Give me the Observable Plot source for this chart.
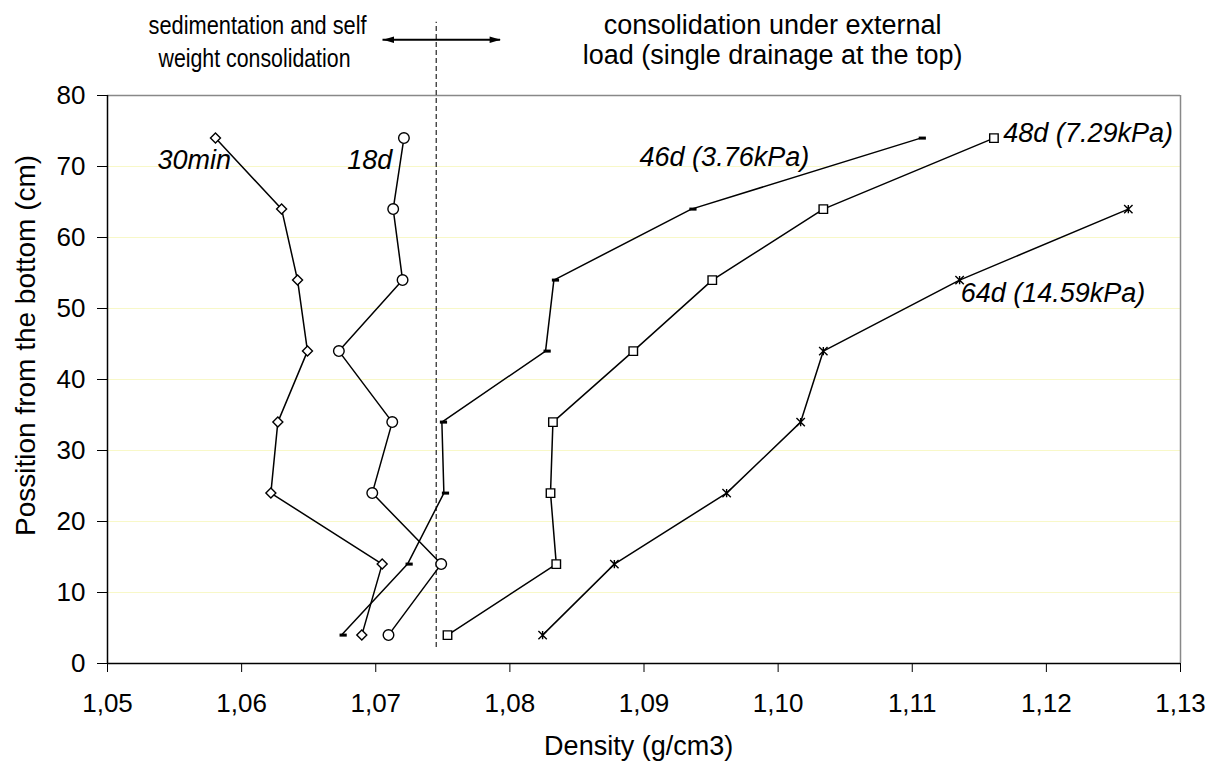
<!DOCTYPE html>
<html><head><meta charset="utf-8">
<script src="https://cdn.jsdelivr.net/npm/d3@7"></script>
<script src="https://cdn.jsdelivr.net/npm/@observablehq/plot@0.6"></script>
<style>body{margin:0;background:#fff}</style>
</head><body><div id="chart"></div>
<script>
// ---- data ----
const positions = [4, 14, 24, 34, 44, 54, 64, 74];
const density30min = [1.06896, 1.07048, 1.06218, 1.06270, 1.06491, 1.06417, 1.06298, 1.05805];
const density18d   = [1.07095, 1.07488, 1.06974, 1.07123, 1.06725, 1.07200, 1.07130, 1.07210];
const density46d   = [1.06745, 1.07237, 1.07508, 1.07493, 1.08266, 1.08328, 1.09353, 1.11063];
const density48d   = [1.07535, 1.08346, 1.08303, 1.08321, 1.08920, 1.09509, 1.10337, 1.11609];
const positions64d = [4, 14, 24, 34, 44, 54, 64];
const density64d   = [1.08244, 1.08779, 1.09616, 1.10168, 1.10337, 1.11353, 1.12611];

const xTicks = [1.05, 1.06, 1.07, 1.08, 1.09, 1.10, 1.11, 1.12, 1.13];
const yTicks = [0, 10, 20, 30, 40, 50, 60, 70, 80];
const gridValues = [10, 20, 30, 40, 50, 60, 70];

// series labels (data units)
const seriesLabels = ["30min", "18d", "46d (3.76kPa)", "48d (7.29kPa)", "64d (14.59kPa)"];
const seriesLabelX = [1.05373, 1.06787, 1.08967, 1.11679, 1.11361];
const seriesLabelY = [70.93, 70.93, 71.35, 74.73, 52.1];

// header annotations
const leftHeader = ["sedimentation and self", "weight consolidation"];
const leftHeaderX = [1.06119, 1.06096];
const leftHeaderY = [89.9, 85.25];
const leftHeaderLength = [218, 192];
const rightHeader = ["consolidation under external", "load (single drainage at the top)"];
const rightHeaderX = 1.09959;
const rightHeaderY = [89.9, 85.68];

const boundaryDensity = 1.07451;   // dashed vertical line
const boundaryRange = [2.25, 90.3];
const arrowSpan = [1.07054, 1.07931];
const arrowHeads = [1.07095, 1.0789];
const arrowLevel = 87.85;

// ---- tables ----
function series(name, xs, ys) { return xs.map((x, i) => ({series: name, density: x, position: ys[i]})); }
const s30 = series("30min", density30min, positions);
const s18 = series("18d", density18d, positions);
const s46 = series("46d", density46d, positions);
const s48 = series("48d", density48d, positions);
const s64 = series("64d", density64d, positions64d);
const all = [...s30, ...s18, ...s46, ...s48, ...s64];

// ---- custom symbols ----
const dashSymbol = {draw(ctx, size) { const r = Math.sqrt(size / Math.PI);
  ctx.moveTo(-r * 0.5, -r * 0.38); ctx.lineTo(r * 1.3, -r * 0.38); ctx.lineTo(r * 1.3, r * 0.38); ctx.lineTo(-r * 0.5, r * 0.38); ctx.closePath(); }};
const starSymbol = {draw(ctx, size) { const r = Math.sqrt(size / Math.PI);
  ctx.moveTo(-r, -r); ctx.lineTo(r, r); ctx.moveTo(-r, r); ctx.lineTo(r, -r); ctx.moveTo(0, -r); ctx.lineTo(0, r); }};
const headLeft = {draw(ctx, size) { const r = Math.sqrt(size / Math.PI);
  ctx.moveTo(-r, 0); ctx.lineTo(r, -r * 0.6); ctx.lineTo(r, r * 0.6); ctx.closePath(); }};
const headRight = {draw(ctx, size) { const r = Math.sqrt(size / Math.PI);
  ctx.moveTo(r, 0); ctx.lineTo(-r, -r * 0.6); ctx.lineTo(-r, r * 0.6); ctx.closePath(); }};

const comma = d => d.toFixed(2).replace(".", ",");

const chart = Plot.plot({
  width: 1219,
  height: 761,
  marginLeft: 107,
  marginRight: 39,
  marginTop: 95,
  marginBottom: 98,
  style: {fontFamily: "'Liberation Sans', Arial, sans-serif", fontSize: "26px", background: "white", color: "black"},
  x: {domain: [1.05, 1.13], ticks: xTicks, tickFormat: comma, tickSize: 9, tickPadding: 21, label: null},
  y: {domain: [0, 80], ticks: yTicks, tickSize: 10, tickPadding: 12, label: null},
  marks: [
    Plot.ruleY(gridValues, {stroke: "#f8f8c8", strokeWidth: 1}),
    Plot.ruleY([80], {stroke: "#888", strokeWidth: 1.5}),
    Plot.ruleX([1.13], {stroke: "#888", strokeWidth: 1.5}),
    Plot.ruleX([1.05], {stroke: "black", strokeWidth: 1.5}),
    Plot.ruleY([0], {stroke: "black", strokeWidth: 1.5}),
    Plot.ruleX([boundaryDensity], {y1: boundaryRange[0], y2: boundaryRange[1], stroke: "#333", strokeWidth: 1.3, strokeDasharray: "5,3"}),
    Plot.line(all, {x: "density", y: "position", z: "series", stroke: "black", strokeWidth: 1.5}),
    Plot.dot(s30, {x: "density", y: "position", symbol: "diamond2", r: 4.5, stroke: "black", fill: "white", strokeWidth: 1.4}),
    Plot.dot(s18, {x: "density", y: "position", symbol: "circle", r: 5.3, stroke: "black", fill: "white", strokeWidth: 1.4}),
    Plot.dot(s46, {x: "density", y: "position", symbol: dashSymbol, r: 4, stroke: "none", fill: "black"}),
    Plot.dot(s48, {x: "density", y: "position", symbol: "square2", r: 5.4, stroke: "black", fill: "white", strokeWidth: 1.4}),
    Plot.dot(s64, {x: "density", y: "position", symbol: starSymbol, r: 4.2, stroke: "black", fill: "none", strokeWidth: 1.4}),
    Plot.text(seriesLabels, {x: (d, i) => seriesLabelX[i], y: (d, i) => seriesLabelY[i], text: d => d, textAnchor: "start", fontSize: 27, fontStyle: "italic", fill: "black"}),
    Plot.text(leftHeader, {x: (d, i) => leftHeaderX[i], y: (d, i) => leftHeaderY[i], text: d => d, textAnchor: "middle", fontSize: 26, fill: "black", className: "left-header"}),
    Plot.text(rightHeader, {x: () => rightHeaderX, y: (d, i) => rightHeaderY[i], text: d => d, textAnchor: "middle", fontSize: 27, fill: "black"}),
    Plot.ruleY([arrowLevel], {x1: arrowSpan[0], x2: arrowSpan[1], stroke: "black", strokeWidth: 2}),
    Plot.dot([arrowHeads[0]], {x: d => d, y: () => arrowLevel, symbol: headLeft, r: 5.5, fill: "black", stroke: "none"}),
    Plot.dot([arrowHeads[1]], {x: d => d, y: () => arrowLevel, symbol: headRight, r: 5.5, fill: "black", stroke: "none"}),
    Plot.text(["Possition from the bottom (cm)"], {x: () => 1.04396, y: () => 44.8, text: d => d, rotate: -90, textAnchor: "middle", fontSize: 28, fill: "black"}),
    Plot.text(["Density (g/cm3)"], {x: () => 1.0896, y: () => -11.6, text: d => d, textAnchor: "middle", fontSize: 27, fill: "black"})
  ]
});
// compress the left header horizontally to match the narrow text box of the original
d3.select(chart).selectAll("text").each(function() {
  const i = leftHeader.indexOf(this.textContent);
  if (i >= 0) {
    this.setAttribute("textLength", leftHeaderLength[i]);
    this.setAttribute("lengthAdjust", "spacingAndGlyphs");
  }
});
document.getElementById("chart").appendChild(chart);
</script>
</body></html>
